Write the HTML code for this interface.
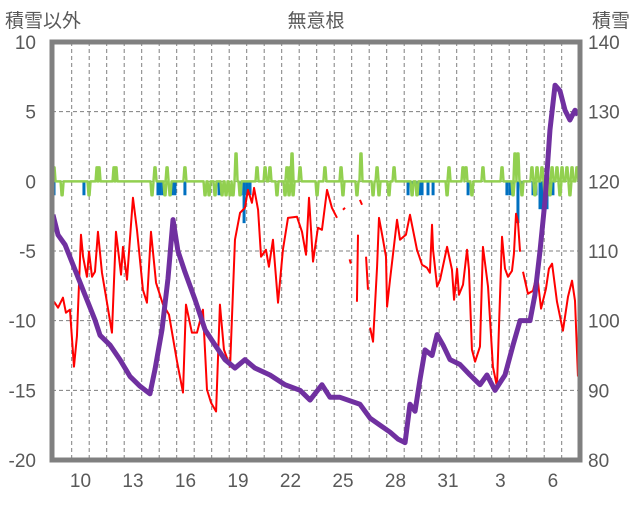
<!DOCTYPE html>
<html><head><meta charset="utf-8"><style>
body{margin:0;background:#fff}
svg text{font-family:"Liberation Sans","Noto Sans CJK JP",sans-serif;fill:#595959}
</style></head><body>
<svg id="c" width="636" height="501" viewBox="0 0 636 501">
<text x="5" y="27" font-size="19">積雪以外</text>
<text x="316" y="27" font-size="19" text-anchor="middle">無意根</text>
<text x="630" y="27" font-size="19" text-anchor="end">積雪</text>
<g id="grid"></g><g id="marks"></g><g id="labels"></g>
<rect x="52" y="42" width="528" height="418" fill="none" stroke="#808080" stroke-width="5"/>
</svg>
<script>
const xTickLabels=["10","13","16","19","22","25","28","31","3","6"];
const xTickDays=[0,3,6,9,12,15,18,21,24,27];
const leftTicks=[10,5,0,-5,-10,-15,-20];
const rightTicks=[140,130,120,110,100,90,80];
const snowT=[-1.07,-0.78,-0.38,0.19,0.76,1.33,1.62,2.19,2.76,3.33,3.90,4.47,4.76,5.16,5.50,5.79,6.07,6.47,7.05,7.62,8.19,8.76,9.33,9.90,10.47,11.33,12.19,13.05,13.62,14.30,14.76,15.33,16.47,17.05,17.62,18.19,18.65,19.05,19.33,19.62,19.90,20.19,20.59,20.88,21.22,21.62,22.19,22.76,23.33,23.73,24.19,24.76,25.22,25.62,26.19,26.47,26.76,27.05,27.33,27.62,27.90,28.19,28.47,28.76,28.93];
const snowV=[115.2,112.3,110.9,107.3,103.7,100.1,97.9,96.5,94.4,92.0,90.6,89.5,93.0,98.7,106,114.5,110,107,103,98.7,96.5,94.4,93.2,94.4,93.2,92.2,90.8,90.0,88.6,90.8,89.0,89.0,88.0,86.0,85.0,84.0,83.0,82.5,88.0,87.0,91.5,95.8,95.0,98.0,96.5,94.4,93.7,92.2,90.8,92.2,90.0,92.2,96.5,100,100,103.7,110,117.3,127.4,133.8,133,130.2,128.8,130.2,129.5];
const redT=[-1.01,-0.78,-0.50,-0.33,-0.10,0.13,0.30,0.53,0.65,0.87,0.99,1.16,1.33,1.50,1.73,1.96,2.30,2.53,2.82,2.93,3.16,3.50,3.73,4.07,4.30,4.53,4.82,5.22,5.56,6.02,6.36,6.53,6.87,7.16,7.50,7.73,7.96,8.25,8.47,8.70,9.05,9.33,9.62,9.90,10.07,10.30,10.42,10.65,10.82,11.10,11.27,11.50,11.79,12.07,12.36,12.87,13.16,13.39,13.56,13.79,14.07,14.30,14.59,14.87,15.16,null,15.50,15.62,null,15.88,15.95,null,16.30,16.36,null,16.47,16.59,null,16.82,16.93,null,17.05,17.22,17.45,17.56,17.79,17.96,18.02,18.19,18.59,18.76,19.10,19.33,19.73,20.02,20.30,20.47,20.59,20.65,20.88,21.05,21.45,21.73,21.85,22.02,22.13,22.36,22.59,22.70,22.87,23.05,23.33,23.50,23.79,24.07,24.30,24.59,24.76,24.93,25.16,25.27,25.39,25.50,25.62,null,25.79,26.07,26.36,26.59,26.82,27.10,27.27,27.45,27.73,28.07,28.36,28.59,28.76,28.93];
const redV=[-8.64,-9.07,-8.35,-9.43,-9.21,-13.3,-11.1,-3.83,-5.41,-6.85,-5.05,-6.85,-6.49,-3.62,-6.56,-8.28,-10.86,-3.62,-6.70,-4.70,-7.06,-1.18,-3.48,-7.78,-8.71,-3.62,-7.28,-8.85,-9.57,-12.94,-15.16,-8.85,-10.86,-10.86,-9.21,-14.95,-15.88,-16.52,-8.85,-12.08,-13.30,-4.19,-2.26,-1.90,-0.61,-1.54,-0.47,-2.04,-5.41,-4.91,-6.13,-4.19,-8.71,-4.91,-2.62,-2.54,-3.62,-5.27,-1.18,-5.76,-3.33,-3.48,-0.61,-1.90,-2.62,null,-2.04,-1.90,null,-5.6,-5.9,null,-8.64,-3.83,null,-1.33,-1.68,null,-5.41,-7.78,null,-10.50,-11.51,-6.13,-2.62,-4.19,-5.41,-9.0,-7.06,-2.76,-4.19,-3.83,-2.40,-4.91,-5.99,-6.20,-6.56,-3.12,-4.91,-7.56,-7.06,-4.70,-6.34,-8.50,-6.27,-8.14,-7.42,-4.91,-6.34,-12.08,-12.94,-11.86,-4.70,-7.56,-13.30,-14.73,-3.98,-6.27,-6.85,-6.42,-5.20,-2.33,-2.90,-5.05,null,-6.49,-8.07,-7.85,-6.63,-9.14,-7.71,-6.27,-5.91,-8.64,-10.72,-8.28,-7.13,-8.57,-14.0];
const greenT=[-1.01,-0.55,0.99,1.45,1.56,2.42,2.53,4.59,4.76,5.33,5.45,5.62,6.47,7.62,7.85,8.19,8.59,8.82,9.05,9.22,9.39,9.62,10.59,11.05,11.33,11.73,12.19,12.30,12.42,12.47,12.59,12.65,13.05,14.02,14.47,15.39,15.50,16.30,16.53,17.22,17.45,17.56,18.13,18.42,19.45,19.73,21.45,21.56,22.36,22.53,22.87,23.50,24.59,25.22,25.33,25.50,25.73,26.30,26.47,26.59,26.87,27.05,27.16,27.33,27.45,27.73,27.90,28.02,28.30,28.47,28.59,28.87];
const greenV=[1,-1,-1,1,1,1,1,-1,1,-1,1,-1,1,-1,-1,-1,-1,-1,-1,-1,2,-1,1,1,1,-1,-1,1,-1,1,2,-1,1,-1,1,1,-1,-1,2,-1,1,-1,-1,1,-1,-1,-1,1,1,1,-1,1,1,-1,2,2,-1,1,-1,1,1,-1,1,-1,1,1,-1,1,1,-1,1,1];
const blueT=[-1.01,0.70,4.93,5.05,5.22,5.73,5.90,6.47,8.42,9.67,9.85,10.02,10.19,19.22,19.45,19.79,19.90,20.02,20.36,20.65,22.65,24.87,25.05,25.22,25.50,25.73,26.36,26.53,26.76,26.93,27.16,27.33,27.50];
const blueV=[-1,-1,-1,-1,-1,-1,-1,-1,-1,-1,-3,-1,-1,-1,-1,-1,-1,-1,-1,-1,-1,-1,-1,-1,-3,-1,-1,-1,-2,-3,-2,-1,-1];

const NS='http://www.w3.org/2000/svg';
const X0=52,X1=580,Y0=42,Y1=460;
const xs=t=>71.7+17.5*t;
const yl=v=>Y0+(10-v)*(Y1-Y0)/30;
const yr=v=>Y0+(140-v)*(Y1-Y0)/60;
function mk(tag,attrs,parent){const e=document.createElementNS(NS,tag);for(const k in attrs)e.setAttribute(k,attrs[k]);parent.appendChild(e);return e;}
const grid=document.getElementById('grid'),marks=document.getElementById('marks'),labels=document.getElementById('labels');
for(let k=0;k<29;k++){const x=xs(k);
 const l=mk('line',{x1:x,x2:x,y1:Y0,y2:Y1,stroke:'#7f7f7f','stroke-width':1,'stroke-dasharray':'4,3'},grid);
 
 }
leftTicks.forEach((v,i)=>{const y=yl(v);
 if(v<10&&v>-20){const l=mk('line',{x1:X0,x2:X1,y1:y,y2:y,stroke:'#7f7f7f','stroke-width':1,'stroke-dasharray':'4,3'},grid);
 
 }
 const t=mk('text',{x:36,y:y+7,'font-size':19,'text-anchor':'end'},labels);t.textContent=v;
 
 
 const r=mk('text',{x:588,y:yr(rightTicks[i])+7,'font-size':19},labels);r.textContent=rightTicks[i];
 
 });
xTickLabels.forEach((s,i)=>{const t=mk('text',{x:xs(xTickDays[i]+0.5),y:487,'font-size':19,'text-anchor':'middle'},labels);t.textContent=s;
 
 });
blueT.forEach((t,i)=>{const y0=yl(0),y=yl(blueV[i]);
 const b=mk('rect',{x:xs(t)-1.5,y:y0,width:3,height:y-y0,fill:'#0070c0'},marks);
 
 });
let gp=`M${X0},${yl(0)}`;
greenT.forEach((t,i)=>{gp+=` L${xs(t)-1.5},${yl(0)} L${xs(t)-0.5},${yl(greenV[i])} L${xs(t)+0.5},${yl(greenV[i])} L${xs(t)+1.5},${yl(0)}`;});
gp+=` L${X1},${yl(0)}`;
const g=mk('path',{d:gp,fill:'none',stroke:'#92d050','stroke-width':2.5,'stroke-linejoin':'round'},marks);


let rp='',pen=false;
redT.forEach((t,i)=>{if(t===null){pen=false;return;}rp+=(pen?' L':' M')+xs(t)+','+yl(redV[i]);pen=true;});
const r=mk('path',{d:rp,fill:'none',stroke:'#ff0000','stroke-width':2,'stroke-linejoin':'round'},marks);


const pp=snowT.map((t,i)=>(i?'L':'M')+xs(t)+','+yr(snowV[i])).join(' ');
const p=mk('path',{d:pp,fill:'none',stroke:'#7030a0','stroke-width':5,'stroke-linejoin':'round'},marks);


</script>
</body></html>
